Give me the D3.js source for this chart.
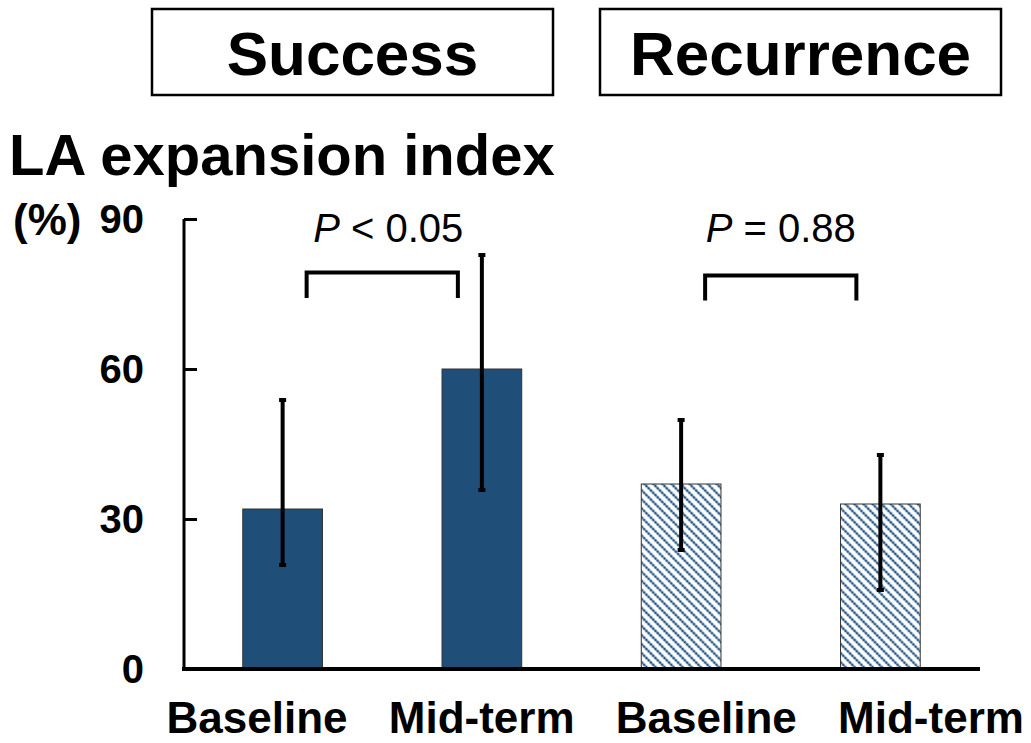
<!DOCTYPE html>
<html>
<head>
<meta charset="utf-8">
<script src="https://cdn.jsdelivr.net/npm/d3@7"></script>
<style>
  html, body { margin: 0; padding: 0; background: #fff; }
  svg { display: block; font-family: "Liberation Sans", Arial, sans-serif; }
</style>
</head>
<body>
<svg id="chart" width="1031" height="743"></svg>
<script>
// LA expansion index by group and time point
const categories = ["S-Baseline", "S-Mid-term", "R-Baseline", "R-Mid-term"];
const axisLabels = ["Baseline", "Mid-term", "Baseline", "Mid-term"];
const groups = ["Success", "Recurrence"];
const values = [32, 60, 37, 33];
const errLow = [21, 36, 24, 16];
const errHigh = [54, 83, 50, 43];
const hatched = [false, false, true, true];
const yTicks = [0, 30, 60, 90];
const pLabels = [["P", " < 0.05"], ["P", " = 0.88"]];

const svg = d3.select("#chart");
const navy = "#1f4e79";

// hatch for the recurrence bars
const defs = svg.append("defs");
const pat = defs.append("pattern")
  .attr("id", "hatch")
  .attr("patternUnits", "userSpaceOnUse")
  .attr("width", 6.4).attr("height", 6.4)
  .attr("patternTransform", "rotate(45)");
pat.append("rect").attr("width", 6.4).attr("height", 6.4).attr("fill", "#fff");
pat.append("line")
  .attr("x1", 0).attr("y1", 1.8).attr("x2", 6.4).attr("y2", 1.8)
  .attr("stroke", "#6f94bb").attr("stroke-width", 2.2);
pat.append("line")
  .attr("x1", 0).attr("y1", 1.8).attr("x2", 6.4).attr("y2", 1.8)
  .attr("stroke", navy).attr("stroke-width", 2.2)
  .attr("stroke-dasharray", "1.6 1.6");

const x = d3.scaleBand().domain(categories).range([183, 980])
  .paddingInner(0.6).paddingOuter(0.3);
const y = d3.scaleLinear().domain([0, 90]).range([669, 219]);
const bw = x.bandwidth();

// group header boxes
const headerBoxes = [{ x: 152, w: 401 }, { x: 600, w: 401 }];
groups.forEach((g, i) => {
  const b = headerBoxes[i];
  svg.append("rect")
    .attr("x", b.x).attr("y", 9).attr("width", b.w).attr("height", 86)
    .attr("fill", "#fff").attr("stroke", "#000").attr("stroke-width", 2.5);
  svg.append("text")
    .attr("x", b.x + b.w / 2).attr("y", 75)
    .attr("text-anchor", "middle")
    .attr("font-size", 62).attr("font-weight", "bold")
    .text(g);
});

// title and unit
svg.append("text")
  .attr("x", 9).attr("y", 175)
  .attr("font-size", 58).attr("font-weight", "bold")
  .text("LA expansion index");
svg.append("text")
  .attr("x", 13).attr("y", 235)
  .attr("font-size", 44).attr("font-weight", "bold")
  .text("(%)");

// bars
svg.selectAll("rect.bar").data(categories).join("rect")
  .attr("class", "bar")
  .attr("x", d => x(d))
  .attr("y", (d, i) => y(values[i]))
  .attr("width", bw)
  .attr("height", (d, i) => y(0) - y(values[i]))
  .attr("fill", (d, i) => hatched[i] ? "url(#hatch)" : navy)
  .attr("stroke", "#333").attr("stroke-width", 1);

// error bars
const eb = svg.append("g");
categories.forEach((c, i) => {
  const cx = x(c) + bw / 2;
  eb.append("line")
    .attr("x1", cx).attr("x2", cx)
    .attr("y1", y(errHigh[i])).attr("y2", y(errLow[i]))
    .attr("stroke", "#000").attr("stroke-width", 4);
  [errHigh[i], errLow[i]].forEach(v => {
    eb.append("rect")
      .attr("x", cx - 3.5).attr("y", y(v) - 1)
      .attr("width", 7).attr("height", 4)
      .attr("fill", "#000");
  });
});

// y axis
const yAxis = d3.axisRight(y).tickValues(yTicks).tickSize(13).tickFormat("");
const gy = svg.append("g").attr("transform", "translate(184,0)").call(yAxis);
gy.select(".domain").attr("d", `M0,${y(90)}V${y(0)}`).attr("stroke", "#000").attr("stroke-width", 3);
gy.selectAll(".tick line").attr("stroke", "#000").attr("stroke-width", 3);
gy.selectAll(".tick").filter(d => d === 0).select("line").remove();

svg.selectAll("text.ytick").data(yTicks).join("text")
  .attr("class", "ytick")
  .attr("x", 144).attr("y", d => y(d) + 14)
  .attr("text-anchor", "end")
  .attr("font-size", 40).attr("font-weight", "bold")
  .text(d => d);

// x axis baseline
svg.append("line")
  .attr("x1", 182).attr("x2", 980)
  .attr("y1", y(0)).attr("y2", y(0))
  .attr("stroke", "#000").attr("stroke-width", 4);

// category labels below the axis
const labelPos = d3.scalePoint().domain(d3.range(axisLabels.length)).range([257, 931]);
svg.selectAll("text.xlab").data(axisLabels).join("text")
  .attr("class", "xlab")
  .attr("x", (d, i) => labelPos(i))
  .attr("y", 733)
  .attr("text-anchor", "middle")
  .attr("font-size", 44).attr("font-weight", "bold")
  .text(d => d);

// significance brackets
[[0, 1], [2, 3]].forEach((pair, k) => {
  const xa = x(categories[pair[0]]) + bw / 2 + 24;
  const xb = x(categories[pair[1]]) + bw / 2 - 24;
  const top = y(79.3 - k * 0.6), bot = y(74.2 - k * 0.5);
  svg.append("path")
    .attr("d", `M${xa},${bot}V${top}H${xb}V${bot}`)
    .attr("fill", "none").attr("stroke", "#000").attr("stroke-width", 4);
  const t = svg.append("text")
    .attr("x", (xa + xb) / 2 + (k === 0 ? 6 : 0)).attr("y", 242)
    .attr("text-anchor", "middle")
    .attr("font-size", 40);
  t.append("tspan").attr("font-style", "italic").text(pLabels[k][0]);
  t.append("tspan").text(pLabels[k][1]);
});
</script>
</body>
</html>
